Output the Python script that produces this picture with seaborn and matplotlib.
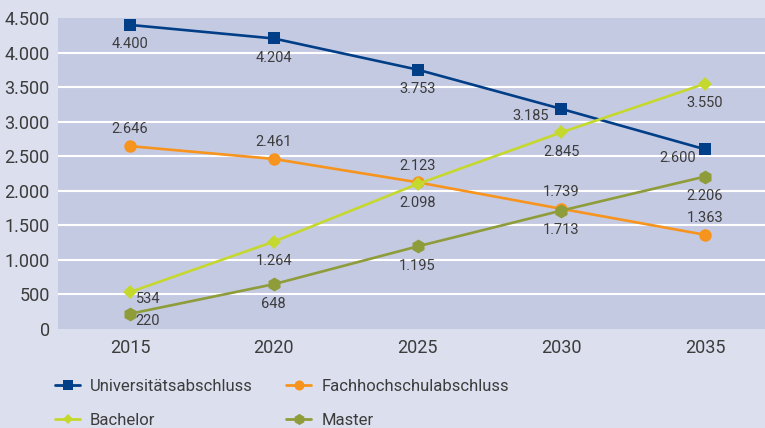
import pandas as pd
import seaborn as sns
import matplotlib.pyplot as plt
from matplotlib.lines import Line2D

years = ["2015", "2020", "2025", "2030", "2035"]
series_names = ["Universitätsabschluss", "Fachhochschulabschluss", "Bachelor", "Master"]
uni = [4400, 4204, 3753, 3185, 2600]
fh = [2646, 2461, 2123, 1739, 1363]
bachelor = [534, 1264, 2098, 2845, 3550]
master = [220, 648, 1195, 1713, 2206]
y_ticks = [0, 500, 1000, 1500, 2000, 2500, 3000, 3500, 4000, 4500]

colors = {"Universitätsabschluss": "#003f87", "Fachhochschulabschluss": "#f7941d",
          "Bachelor": "#c5d82e", "Master": "#8f9c3a"}
markers = {"Universitätsabschluss": "s", "Fachhochschulabschluss": "o",
           "Bachelor": "D", "Master": "h"}
msizes = {"Universitätsabschluss": 9, "Fachhochschulabschluss": 9,
          "Bachelor": 7, "Master": 10}
# label offsets in points (dx, dy) per point
offsets = {
    "Universitätsabschluss": [(0, -14), (0, -14), (0, -14), (-22, -5), (-20, -6.5)],
    "Fachhochschulabschluss": [(0, 12), (0, 12), (0, 12), (0, 12), (0, 12)],
    "Bachelor": [(13, -5), (0, -14), (0, -14), (0, -14), (0, -14)],
    "Master": [(13, -5), (0, -14), (0, -14), (0, -14), (0, -14)],
}

values = {"Universitätsabschluss": uni, "Fachhochschulabschluss": fh,
          "Bachelor": bachelor, "Master": master}
rows = []
for name in series_names:
    for yr, v in zip(years, values[name]):
        rows.append({"Jahr": yr, "Wert": v, "Abschluss": name})
df = pd.DataFrame(rows)

sns.set_style("white")
plt.rcParams["font.family"] = ["Roboto", "DejaVu Sans"]
text_color = "#3c3c3c"

fig = plt.figure(figsize=(7.65, 4.28), dpi=100)
fig.patch.set_facecolor("#dcdfee")
ax = fig.add_axes([58 / 765, 1 - 329 / 428, (777 - 58) / 765, 311 / 428])
ax.set_facecolor("#c5cae3")

for name in series_names:
    sub = df[df["Abschluss"] == name]
    sns.lineplot(data=sub, x="Jahr", y="Wert", color=colors[name], marker=markers[name],
                 markersize=msizes[name], markeredgewidth=0, linewidth=1.9, ax=ax,
                 sort=False, zorder=3)
    for i, v in enumerate(values[name]):
        dx, dy = offsets[name][i]
        ax.annotate(f"{v:,}".replace(",", "."), (i, v), xytext=(dx, dy),
                    textcoords="offset points", ha="center", va="center",
                    fontsize=10.5, color=text_color, zorder=4)

ax.set_xlim(-0.5, 4.5)
ax.set_ylim(0, 4500)
ax.set_yticks(y_ticks)
ax.set_yticklabels([f"{t:,}".replace(",", ".") for t in y_ticks])
for t in y_ticks[1:-1]:
    ax.axhline(t, color="white", linewidth=1.5, zorder=1)
ax.tick_params(axis="both", length=0, labelsize=13, colors=text_color)
ax.tick_params(axis="y", pad=6)
ax.tick_params(axis="x", pad=7)
ax.set_xlabel("")
ax.set_ylabel("")
for s in ax.spines.values():
    s.set_visible(False)

handles = []
order = ["Universitätsabschluss", "Bachelor", "Fachhochschulabschluss", "Master"]
for name in order:
    handles.append(Line2D([0], [0], color=colors[name], marker=markers[name],
                          markersize=msizes[name] * 0.8, markeredgewidth=0, linewidth=2,
                          label=name))
fig.legend(handles=handles, loc="upper left", bbox_to_anchor=(0.072, 0.115), ncol=2,
           frameon=False, fontsize=12, labelcolor=text_color, handlelength=1.5,
           columnspacing=2.0, labelspacing=1.15, handletextpad=0.6, borderaxespad=0,
           borderpad=0)

fig.savefig("out.png", dpi=100, facecolor=fig.get_facecolor())
